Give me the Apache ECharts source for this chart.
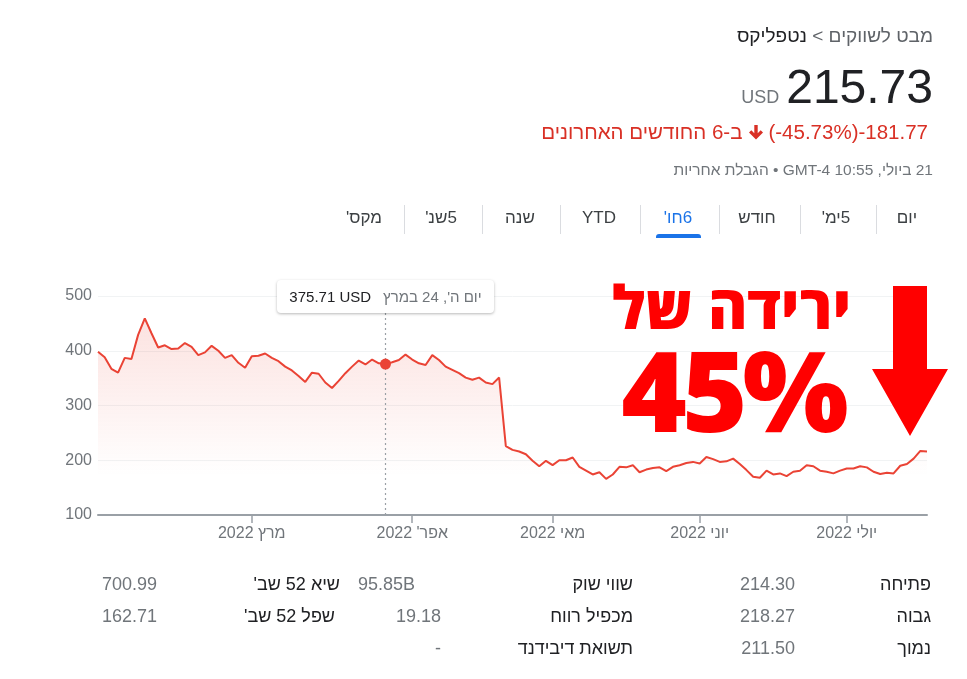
<!DOCTYPE html>
<html><head><meta charset="utf-8">
<script src="https://cdn.jsdelivr.net/npm/echarts@6/dist/echarts.min.js"></script>
<style>
body{margin:0;width:967px;height:679px;position:relative;overflow:hidden;background:#fff;font-family:Arial,"Liberation Sans",sans-serif;}
#chart{position:absolute;left:0;top:0;width:967px;height:679px;}
.t{position:absolute;white-space:nowrap;}
.ov{position:absolute;left:0;top:0;width:967px;height:679px;pointer-events:none;}
</style></head><body>
<div id="chart"></div>
<div class="ov" id="ov"></div>
<script>
// ---- data ----
const startDate = '2022-01-21';
const holidays = ['2022-02-21','2022-04-15','2022-05-30','2022-06-20','2022-07-04'];
const prices = [
 398,388,367,360,387,385,429,459,432,406,410,403,404,414,407,392,397,409,400,387,
 392,378,369,390,391,395,387,381,371,364,354,343,360,358,342,332,345,359,371,382,
 375,384,377,375.71,379,383,393,384,377,374,392,383,371,365,359,351,347,351,342,339,
 351,226,219,216,211,199,189,199,191,200,200,205,188,181,174,178,166,174,188,187,
 191,178,183,186,187,180,188,191,195,197,194,206,202,197,198,203,193,182,170,168,
 181,174,176,171,179,181,191,189,181,179,176,181,185,185,189,187,179,175,177,176,
 190,193,203,217,216
];
const yMin = 100, yMax = 500, yStep = 100;
const tickIndex = [23,47,68,90,112];
const tickLabels = ['2022 מרץ','2022 אפר\'\u200F','2022 מאי','2022 יוני','2022 יולי'];
const hoverIndex = 43;
const hoverDate = 'יום ה\', 24 במרץ';
const hoverValue = '375.71 USD';
const statsRows = [
 [['פתיחה',931,'l'],['214.30',795,'v'],['שווי שוק',633,'l'],['95.85B',415,'v'],['שיא 52 שב\'',340,'l'],['700.99',157,'v']],
 [['גבוה',931,'l'],['218.27',795,'v'],['מכפיל רווח',633,'l'],['19.18',441,'v'],['שפל 52 שב\'',335,'l'],['162.71',157,'v']],
 [['נמוך',931,'l'],['211.50',795,'v'],['תשואת דיבידנד',633,'l'],['-',441,'v']]
];
const tabs = ['יום','5ימ\'','חודש','6חו\'','YTD','שנה','5שנ\'','מקס\''];
const activeTab = 3;

// trading-day categories
const dates = [];
(function(){
  const d = new Date(startDate + 'T12:00:00Z');
  while (dates.length < prices.length) {
    const s = d.toISOString().slice(0,10);
    const wd = d.getUTCDay();
    if (wd !== 0 && wd !== 6 && holidays.indexOf(s) < 0) dates.push(s);
    d.setUTCDate(d.getUTCDate()+1);
  }
})();

const chart = echarts.init(document.getElementById('chart'), null, {renderer:'canvas'});
const isTick = (i) => tickIndex.indexOf(i) >= 0;
chart.setOption({
  animation:false,
  grid:{left:98, right:40, top:296, bottom:164},
  xAxis:{
    type:'category', data:dates, boundaryGap:false,
    axisLine:{lineStyle:{color:'#9aa0a6', width:2}},
    axisTick:{show:true, length:8, interval:(i)=>isTick(i), lineStyle:{color:'#9aa0a6', width:1.5}},
    axisLabel:{interval:(i)=>isTick(i), margin:11, color:'#70757a', fontSize:16, fontFamily:'Arial',
      formatter:(v,i)=> isTick(i) ? tickLabels[tickIndex.indexOf(i)] : ''},
    splitLine:{show:false}
  },
  yAxis:{
    type:'value', min:yMin, max:yMax, interval:yStep,
    axisLine:{show:false}, axisTick:{show:false},
    axisLabel:{color:'#70757a', fontSize:16, fontFamily:'Arial', margin:6},
    splitLine:{lineStyle:{color:'#f1f3f4', width:1}}
  },
  series:[{
    type:'line', data:prices, showSymbol:false, smooth:false,
    lineStyle:{color:'#ea4335', width:2},
    itemStyle:{color:'#ea4335'},
    areaStyle:{color:new echarts.graphic.LinearGradient(0,0,0,1,[
      {offset:0,color:'rgba(234,67,53,0.22)'},
      {offset:0.8,color:'rgba(234,67,53,0)'}])},
    markLine:{silent:true, symbol:'none', label:{show:false},
      lineStyle:{color:'#9aa0a6', type:[2,3], width:1.2},
      data:[{xAxis:dates[hoverIndex]}]},
    markPoint:{silent:true, symbol:'circle', symbolSize:11, label:{show:false},
      itemStyle:{color:'#ea4335'},
      data:[{coord:[dates[hoverIndex], prices[hoverIndex]]}]}
  }],
  graphic:[{
    type:'polygon', z:100,
    shape:{points:[[893,286],[927,286],[927,369],[948,369],[910,436],[872,369],[893,369]]},
    style:{fill:'#ff0000'}
  }]
});

// ---- overlay texts ----
const ov = document.getElementById('ov');
function add(html, style, dir){
  const d = document.createElement('div');
  d.className = 't';
  if (dir) d.setAttribute('dir', dir);
  d.style.cssText = style;
  d.innerHTML = html;
  ov.appendChild(d);
  return d;
}
// header
add('מבט לשווקים <span dir="ltr">&lt;</span> <span style="color:#202124">נטפליקס</span>',
  'right:34px;top:25px;font-size:19px;line-height:22px;color:#5f6368;', 'rtl');
add('<span style="font-size:18px;color:#70757a;margin-right:7px">USD</span><span style="font-size:48px;color:#202124">215.73</span>',
  'right:34px;top:62px;line-height:50px;display:flex;align-items:baseline;', 'ltr');
add('<span dir="ltr">-181.77</span><span dir="ltr">(-45.73%)</span>' +
  '<svg width="16" height="16" viewBox="0 0 16 16" style="margin:0 4px 0 6px"><path d="M6.3 1h3.4v8.2l3-3 2.3 2.3L8 15.4 1 8.5l2.3-2.3 3 3z" fill="#d93025"/></svg>' +
  '<span>ב-6 החודשים האחרונים</span>',
  'right:39px;top:121px;font-size:20.5px;line-height:22px;color:#d93025;display:flex;align-items:center;', 'rtl');
add('21 ביולי, GMT-4 10:55 • הגבלת אחריות',
  'right:34px;top:161px;font-size:15.5px;line-height:18px;color:#70757a;', 'rtl');

// tabs
const tabCenters = [907,836,757,678,599,520,441,364];
const sepX = [876,800,719,640,560,482,404];
tabs.forEach((t,i)=>{
  add(t, 'left:'+(tabCenters[i]-40)+'px;width:80px;text-align:center;top:207px;font-size:17px;line-height:22px;color:'+(i===activeTab?'#1a73e8':'#3c4043')+';', 'rtl');
});
sepX.forEach(x=>add('', 'left:'+x+'px;top:205px;width:1px;height:29px;background:#dadce0;'));
add('', 'left:656px;top:234px;width:45px;height:4px;background:#1a73e8;border-radius:3px 3px 0 0;');

// tooltip box
add('<span style="color:#70757a">'+hoverDate+'</span><span dir="ltr" style="color:#202124;margin-right:12px">'+hoverValue+'</span>',
  'left:277px;top:280px;width:217px;height:33px;box-sizing:border-box;padding:0 10px;background:#fff;border-radius:4px;box-shadow:0 1px 3px rgba(0,0,0,0.28);font-size:15px;line-height:33px;display:flex;justify-content:center;', 'rtl');

// big annotation
add('ירידה של', 'left:600px;width:263px;text-align:center;top:271px;font-family:"Open Sans";font-weight:800;font-size:60px;line-height:70px;color:#ff0000;', 'rtl');
add('45%', 'left:600px;width:265px;text-align:center;top:324px;font-family:"Open Sans";font-weight:800;font-size:112px;line-height:130px;color:#ff0000;letter-spacing:-5px;', 'ltr');

// stats table
const rowY = [584,616,648];
statsRows.forEach((row,ri)=>{
  row.forEach(c=>{
    add(c[0], 'right:'+(967-c[1])+'px;top:'+(rowY[ri]-11)+'px;font-size:18px;line-height:22px;color:'+(c[2]==='l'?'#202124':'#70757a')+';', 'rtl');
  });
});
</script>
</body></html>
